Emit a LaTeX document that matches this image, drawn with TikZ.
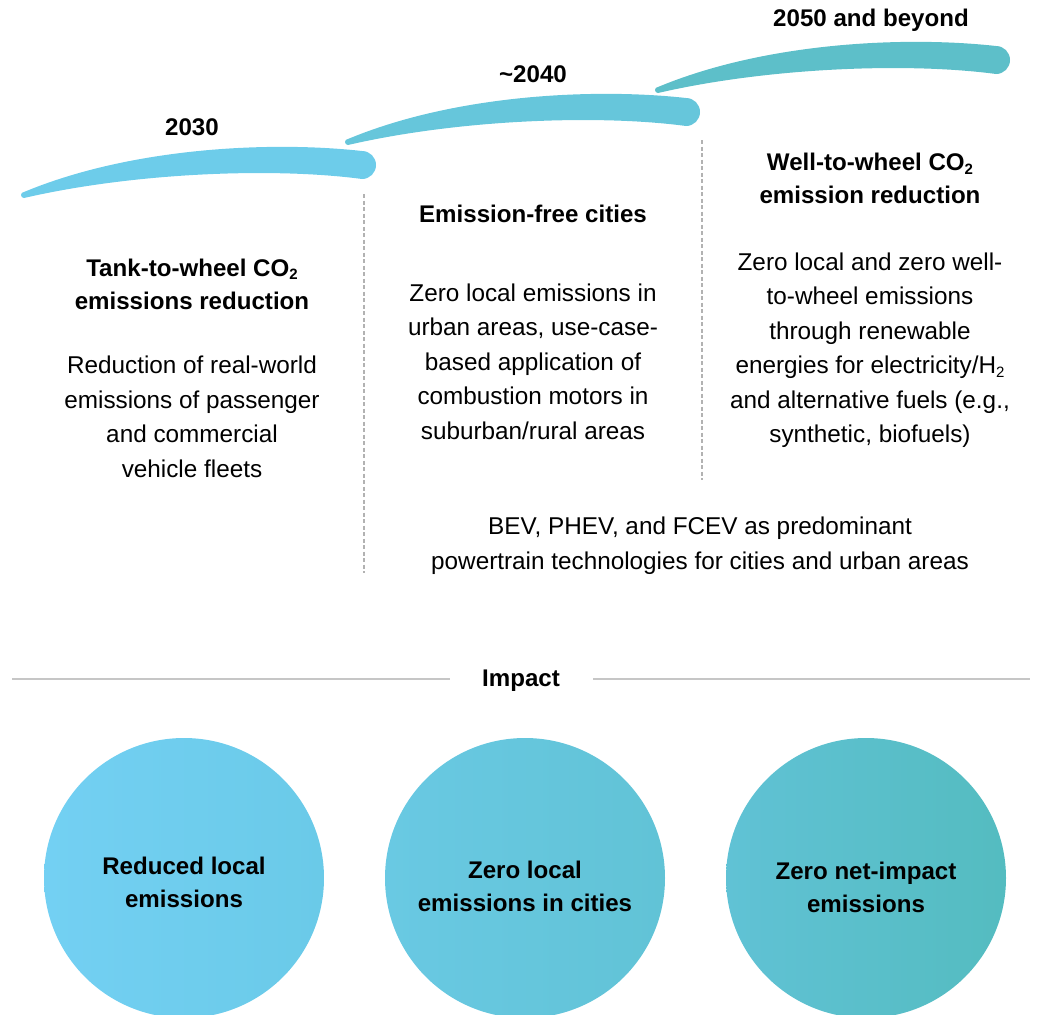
\documentclass[tikz,border=0pt]{standalone}
\usepackage{fontspec}
\setmainfont{Liberation Sans}
\definecolor{swA}{HTML}{6DCCEA}
\definecolor{swB}{HTML}{66C6DB}
\definecolor{swC}{HTML}{5DBFC9}
\definecolor{cAl}{HTML}{73D0F3}
\definecolor{cAr}{HTML}{6ACAE8}
\definecolor{cBl}{HTML}{69C9E3}
\definecolor{cBr}{HTML}{61C3D6}
\definecolor{cCl}{HTML}{60C2D5}
\definecolor{cCr}{HTML}{54BCC0}
\newcommand{\lowsub}[1]{\raisebox{-0.3ex}{\fontsize{15}{15}\selectfont #1}}
\begin{document}
\begin{tikzpicture}[x=1pt,y=-1pt,
  txt/.style={font=\fontsize{24.3}{34.5}\selectfont, align=center, inner sep=0pt},
  bld/.style={font=\fontsize{24.1}{33}\selectfont\bfseries, align=center, inner sep=0pt},
  dashline/.style={draw=gray!60, line width=1.3pt, dash pattern=on 4pt off 2.5pt},
  rulestyle/.style={draw=gray!45, line width=1.6pt},
  disc/.style={circle, minimum size=280pt, inner sep=0pt, draw=none},
  swoosh/.pic={
    \fill[pic actions] (-338,27) .. controls (-230,-18) and (-90,-24) .. (0,-14)
      arc[start angle=-90, end angle=90, radius=14]
      .. controls (-90,2) and (-230,8) .. (-338,33)
      arc[start angle=90, end angle=270, radius=3] -- cycle;
  }
]
\useasboundingbox (0,0) rectangle (1037,1015);

% swooshes
\pic[fill=swA] at (362,165) {swoosh};
\pic[fill=swB] at (686,112) {swoosh};
\pic[fill=swC] at (996,60) {swoosh};

% years
\node[bld] (y1) at (192,127) {2030};
\node[bld] (y2) at (533,74) {\textasciitilde2040};
\node[bld] (y3) at (871,20) {2050 and beyond};

% dashed separators
\coordinate (d1a) at (364,194);
\coordinate (d1b) at (364,573);
\coordinate (d2a) at (702,140);
\coordinate (d2b) at (702,480);
\draw[dashline] (d1a) -- (d1b);
\draw[dashline] (d2a) -- (d2b);

% column 1
\node[bld] (h1) at (192,284) {Tank-to-wheel CO\lowsub{2}\\emissions reduction};
\node[txt] (b1) at (192,417) {Reduction of real-world\\emissions of passenger\\and commercial\\vehicle fleets};

% column 2
\node[bld] (h2) at (533,214) {Emission-free cities};
\node[txt] (b2) at (533,361.5) {Zero local emissions in\\urban areas, use-case-\\based application of\\combustion motors in\\suburban/rural areas};

% column 3
\node[bld] (h3) at (870,178.5) {Well-to-wheel CO\lowsub{2}\\emission reduction};
\node[txt] (b3) at (870,350) {Zero local and zero well-\\to-wheel emissions\\through renewable\\energies for electricity/H\lowsub{2}\\and alternative fuels (e.g.,\\synthetic, biofuels)};

% bottom note
\node[txt] (note) at (700,545.5) {BEV, PHEV, and FCEV as predominant\\powertrain technologies for cities and urban areas};

% impact
\node[bld] (imp) at (521,681) {Impact};
\coordinate (r1a) at (12,679);
\coordinate (r1b) at (450,679);
\coordinate (r2a) at (593,679);
\coordinate (r2b) at (1030,679);
\draw[rulestyle] (r1a) -- (r1b);
\draw[rulestyle] (r2a) -- (r2b);

% circles
\node[disc, left color=cAl, right color=cAr] (c1) at (184,878) {};
\node[disc, left color=cBl, right color=cBr] (c2) at (525,878) {};
\node[disc, left color=cCl, right color=cCr] (c3) at (866,878) {};
\node[bld] (t1) at (184,882) {Reduced local\\emissions};
\node[bld] (t2) at (525,886) {Zero local\\emissions in cities};
\node[bld] (t3) at (866,887) {Zero net-impact\\emissions};
\end{tikzpicture}
\end{document}
